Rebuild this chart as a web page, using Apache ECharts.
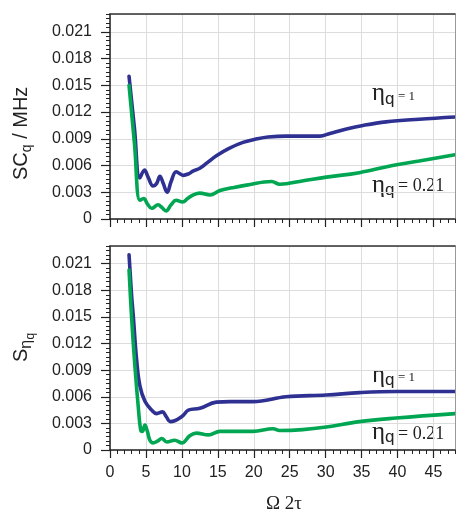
<!DOCTYPE html>
<html><head><meta charset="utf-8">
<script src="https://cdn.jsdelivr.net/npm/echarts@6/dist/echarts.min.js"></script>
<style>html,body{margin:0;padding:0;background:#fff}#c{width:456px;height:512px}</style>
</head><body><div id="c"></div>
<script>
const xMajorTicks = [0, 5, 10, 15, 20, 25, 30, 35, 40, 45];
const yMajorTicks = [0, 0.003, 0.006, 0.009, 0.012, 0.015, 0.018, 0.021];

// Top panel: SC_q / MHz vs Omega 2tau
const topEta1 = [[2.65,0.0160],[3.4,0.0102],[4.15,0.0046],[4.8,0.0055],[5.3,0.0047],[6.0,0.0037],[6.5,0.0040],[6.95,0.0048],[7.4,0.0040],[7.95,0.0030],[8.5,0.0042],[9.2,0.0053],[9.7,0.0051],[10.2,0.0049],[11.0,0.0051],[11.6,0.0054],[12.5,0.0057],[13.5,0.0063],[14.8,0.0071],[16.5,0.0079],[18.5,0.0086],[20.5,0.0090],[22.0,0.0092],[24.5,0.0093],[27,0.0093],[29.2,0.0093],[30.6,0.0096],[32.9,0.0101],[35.2,0.0105],[38.4,0.0109],[43,0.0112],[48,0.01145]];
const topEta021 = [[2.65,0.0150],[3.4,0.0085],[4.15,0.0021],[4.7,0.0023],[5.2,0.0017],[5.8,0.0012],[6.7,0.0016],[7.2,0.0013],[7.8,0.0009],[8.5,0.0016],[9.2,0.0021],[10.1,0.0019],[10.8,0.0023],[11.6,0.0027],[12.5,0.0029],[13.9,0.0027],[15.3,0.0032],[17,0.0035],[19,0.0038],[22.5,0.0042],[23.6,0.0039],[26.9,0.0043],[30.1,0.0047],[34.7,0.0052],[39.3,0.0060],[43,0.0065],[48,0.0072]];
// Bottom panel: S_eta_q vs Omega 2tau
const botEta1 = [[2.65,0.0220],[3.0,0.0175],[3.25,0.0150],[3.7,0.0102],[4.17,0.0072],[4.86,0.0055],[5.8,0.0045],[6.5,0.0041],[7.3,0.0043],[7.8,0.0038],[8.4,0.0032],[9.0,0.0033],[9.7,0.0036],[10.3,0.0040],[10.9,0.0045],[12.5,0.0047],[14.8,0.0054],[16.7,0.00545],[19.9,0.00545],[24.5,0.0060],[30.1,0.0062],[34.7,0.00647],[39.8,0.0066],[48,0.0066]];
const botEta021 = [[2.65,0.0203],[3.0,0.0150],[3.47,0.0094],[3.93,0.0049],[4.26,0.0023],[4.5,0.0021],[4.86,0.0028],[5.2,0.0021],[5.55,0.0011],[6.0,0.0008],[6.6,0.0010],[7.2,0.0013],[7.9,0.0009],[9.0,0.0011],[10.0,0.0008],[11.1,0.0016],[12,0.0019],[13.7,0.0017],[15.3,0.0021],[19.9,0.0021],[22.7,0.0024],[23.6,0.0022],[26.8,0.0023],[30.1,0.0026],[34.7,0.0032],[39.8,0.0036],[48,0.0041]];

const BLUE = '#2e3192', GREEN = '#00a651', INK = '#222';
const chart = echarts.init(document.getElementById('c'), null, {renderer: 'canvas'});
const grids = [{left:110, top:14, width:345, height:205}, {left:110, top:246, width:345, height:204}];
const xAxes = [], yAxes = [];
const OFF = {show:false};
grids.forEach((g, i) => {
  xAxes.push({type:'value', gridIndex:i, min:0, max:48, interval:1, position:'bottom', z:3,
    axisLine:{show:true, onZero:false, lineStyle:{color:INK, width:1.5}},
    axisTick:{show:true, inside:false, length:4, lineStyle:{color:INK, width:1}},
    axisLabel:OFF, splitLine:OFF});
  xAxes.push({type:'value', gridIndex:i, min:0, max:48, position:'bottom', z:3,
    axisLine:{show:false, onZero:false},
    axisTick:{show:true, inside:false, length:8, customValues:xMajorTicks, lineStyle:{color:INK, width:1.2}},
    axisLabel:{show:i===1, customValues:xMajorTicks, fontSize:16, color:INK, margin:15, fontFamily:'Liberation Sans'},
    splitLine:OFF});
  xAxes.push({type:'value', gridIndex:i, min:0, max:48, interval:5, position:'bottom', z:0,
    axisLine:OFF, axisTick:OFF, axisLabel:OFF,
    splitLine:{show:true, lineStyle:{color:'#dcdcdc', width:1}}});
  xAxes.push({type:'value', gridIndex:i, min:0, max:48, position:'top', z:3,
    axisLine:{show:true, onZero:false, lineStyle:{color:'#333', width:1.5}},
    axisTick:OFF, axisLabel:OFF, splitLine:OFF});

  yAxes.push({type:'value', gridIndex:i, min:0, max:0.023, interval:0.0005, position:'left', z:3,
    axisLine:{show:true, onZero:false, lineStyle:{color:INK, width:1.5}},
    axisTick:{show:true, inside:false, length:4, lineStyle:{color:INK, width:1}},
    axisLabel:OFF, splitLine:OFF});
  yAxes.push({type:'value', gridIndex:i, min:0, max:0.023, position:'left', z:3,
    axisLine:{show:false, onZero:false},
    axisTick:{show:true, inside:false, length:9, customValues:yMajorTicks, lineStyle:{color:INK, width:1.2}},
    axisLabel:{show:true, customValues:yMajorTicks, fontSize:16, color:INK, margin:18, fontFamily:'Liberation Sans',
      formatter: v => v === 0 ? '0' : v.toFixed(3)},
    splitLine:OFF});
  yAxes.push({type:'value', gridIndex:i, min:0, max:0.023, interval:0.003, position:'left', z:0,
    axisLine:OFF, axisTick:OFF, axisLabel:OFF,
    splitLine:{show:true, lineStyle:{color:'#dcdcdc', width:1}}});
  yAxes.push({type:'value', gridIndex:i, min:0, max:0.023, position:'right', z:3,
    axisLine:{show:true, onZero:false, lineStyle:{color:'#999', width:1}},
    axisTick:OFF, axisLabel:OFF, splitLine:OFF});
});
function line(data, color, gi) {
  return {type:'line', data, xAxisIndex:gi*4, yAxisIndex:gi*4, smooth:0.4, symbol:'none',
    lineStyle:{color, width:3.6, cap:'round'}, z:2, silent:true};
}
function t(x, y, text, size, family, rot) {
  return {type:'text', x, y, rotation: rot || 0, silent:true,
    style:{text, fontSize:size, fontFamily:family, fill:'#222', align:'left', verticalAlign:'middle'}};
}
const SERIF = 'Liberation Serif', SANS = 'Liberation Sans';
const R = Math.PI / 2;
const graphics = [
  t(372, 93, 'η', 25, SERIF), t(385, 99, 'q', 17, SANS), t(398, 97, '= 1', 13, SERIF),
  t(372, 185, 'η', 25, SERIF), t(385, 190, 'q', 17, SANS), t(398, 186, '= 0.21', 18, SERIF),
  t(372, 375, 'η', 25, SERIF), t(385, 380, 'q', 17, SANS), t(398, 378, '= 1', 13, SERIF),
  t(372, 432, 'η', 25, SERIF), t(385, 437, 'q', 17, SANS), t(398, 434, '= 0.21', 18, SERIF),
  t(21.4, 180, 'SC', 20, SANS, R), t(27.4, 152.2, 'q', 14, SANS, R), t(21.4, 144.4, ' / MHz', 20, SANS, R),
  t(21.4, 362, 'S', 20, SANS, R), t(26.7, 348.7, 'η', 16, SANS, R), t(31, 339.5, 'q', 12, SANS, R),
  {type:'text', x:284, y:504, silent:true, style:{text:'Ω 2τ', fontSize:19, fontFamily:SERIF, fill:'#222', align:'center', verticalAlign:'middle'}}
];
chart.setOption({
  animation:false,
  backgroundColor:'#fff',
  grid: grids,
  xAxis: xAxes,
  yAxis: yAxes,
  series: [line(topEta1, BLUE, 0), line(topEta021, GREEN, 0), line(botEta1, BLUE, 1), line(botEta021, GREEN, 1)],
  graphic: graphics
});
</script></body></html>
